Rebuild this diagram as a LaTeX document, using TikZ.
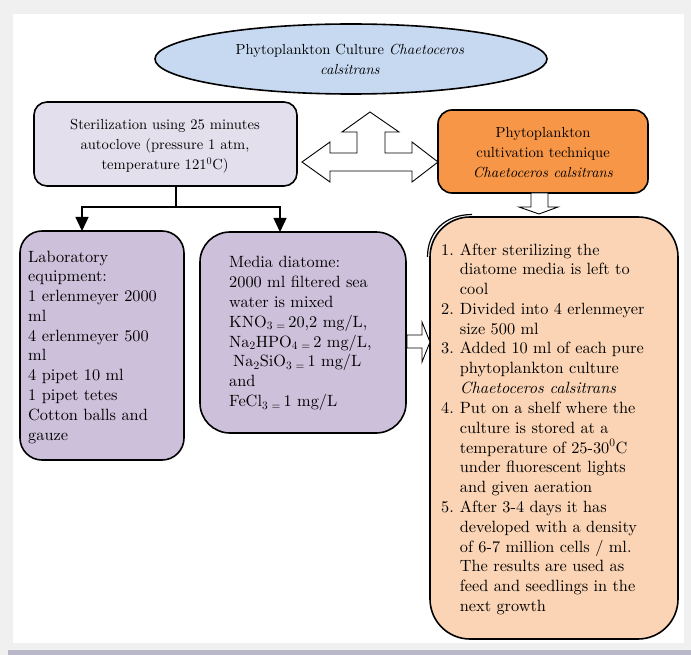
\documentclass[tikz,border=0pt]{standalone}
\usepackage{fontspec}
\setmainfont{lmroman10-regular.otf}[ItalicFont=lmroman10-italic.otf,BoldFont=lmroman10-bold.otf]
\usetikzlibrary{shapes.geometric,arrows.meta,calc}
\definecolor{pagegray}{HTML}{F0F0F0}
\definecolor{barcolor}{HTML}{B8B8C8}
\definecolor{ellblue}{HTML}{C6D9F1}
\definecolor{sterfill}{HTML}{E4DFEC}
\definecolor{orangefill}{HTML}{F79646}
\definecolor{purplefill}{HTML}{CCC0DA}
\definecolor{peachfill}{HTML}{FAD4B4}
\begin{document}
\begin{tikzpicture}[x=1pt,y=-1pt,
  box/.style={draw=black,line width=1.6pt,inner sep=0pt,outer sep=0pt},
  big/.style={inner sep=0pt,font=\fontsize{16.3}{19.8}\selectfont},
  small/.style={inner sep=0pt,font=\fontsize{14.6}{20}\selectfont},
  blockarrow/.style={draw=black,fill=white,line width=0.9pt,line join=miter},
  link/.style={line width=1.4pt,-{Triangle[width=13pt,length=14pt]}}
]
\useasboundingbox (0,0) rectangle (691,655);
\fill[pagegray] (0,0) rectangle (691,655);
\fill[white] (13,14) rectangle (684,643);
\fill[barcolor] (8,650) rectangle (691,655);

% top ellipse
\node[box,ellipse,fill=ellblue,minimum width=392pt,minimum height=70pt,line width=1.6pt] (ell) at (351,59) {};
\node[small,anchor=base] (elltxt) at (350,55) {\begin{tabular}[t]{@{}c@{}}Phytoplankton Culture \textit{Chaetoceros}\\ \textit{calsitrans}\end{tabular}};

% sterilization box
\node[box,fill=sterfill,rounded corners=13pt,minimum width=263pt,minimum height=84pt] (ster) at (165.5,144) {};
\node[small,anchor=base] (stertxt) at (165,130) {\begin{tabular}[t]{@{}c@{}}Sterilization using 25 minutes\\ autoclove (pressure 1 atm,\\ temperature 121\textsuperscript{0}C)\end{tabular}};

% orange box
\node[box,fill=orangefill,rounded corners=14pt,minimum width=210pt,minimum height=83pt] (tech) at (543,151.5) {};
\node[small,anchor=base] (techtxt) at (543,138) {\begin{tabular}[t]{@{}c@{}}Phytoplankton\\ cultivation technique\\ \textit{Chaetoceros calsitrans}\end{tabular}};

% three-way block arrow
\draw[blockarrow] (302,162) -- (330,142) -- (330,153) -- (357,153) -- (357,132) -- (342,132) -- (370,112) -- (399,132) -- (385,132) -- (385,153) -- (412,153) -- (412,142) -- (438,162) -- (412,182) -- (412,171) -- (330,171) -- (330,182) -- cycle;

% laboratory box
\node[box,fill=purplefill,rounded corners=22pt,minimum width=164pt,minimum height=229pt] (lab) at (102,345.5) {};
\node[big,anchor=base west] (labtxt) at (28,262) {\begin{tabular}[t]{@{}l@{}}Laboratory\\ equipment:\\ 1 erlenmeyer 2000\\ ml\\ 4 erlenmeyer 500\\ ml\\ 4 pipet 10 ml\\ 1 pipet tetes\\ Cotton balls and\\ gauze\end{tabular}};

% media box
\node[box,fill=purplefill,rounded corners=30pt,minimum width=206pt,minimum height=201pt] (media) at (303,332.5) {};
\node[big,anchor=base west] (mediatxt) at (229,268) {\begin{tabular}[t]{@{}l@{}}Media diatome:\\ 2000 ml filtered sea\\ water is mixed\\ KNO\textsubscript{3 =}\,20,2 mg/L,\\ Na\textsubscript{2}HPO\textsubscript{4 =}\,2 mg/L,\\ \hspace{4pt}Na\textsubscript{2}SiO\textsubscript{3 =}\,1 mg/L\\ and\\ FeCl\textsubscript{3 =}\,1 mg/L\end{tabular}};

% steps box
\draw[line width=1.2pt] (427.5,257) .. controls (427.5,232) and (445,214.5) .. (472,214.5);
\node[box,fill=peachfill,rounded corners=40pt,minimum width=248pt,minimum height=422pt] (steps) at (554,428) {};
\node[big,anchor=base west] (stepstxt) at (441,255) {\begin{tabular}[t]{@{}r@{\hspace{6pt}}l@{}}
1. & After sterilizing the\\
 & diatome media is left to\\
 & cool\\
2. & Divided into 4 erlenmeyer\\
 & size 500 ml\\
3. & Added 10 ml of each pure\\
 & phytoplankton culture\\
 & \textit{Chaetoceros calsitrans}\\
4. & Put on a shelf where the\\
 & culture is stored at a\\
 & temperature of 25-30\textsuperscript{0}C\\
 & under fluorescent lights\\
 & and given aeration\\
5. & After 3-4 days it has\\
 & developed with a density\\
 & of 6-7 million cells / ml.\\
 & The results are used as\\
 & feed and seedlings in the\\
 & next growth
\end{tabular}};

% connectors
\draw[line width=1.4pt] ([xshift=10.5pt]ster.south) -- ++(0,21) coordinate (split);
\draw[link] (split) -| ([xshift=-20pt]lab.north);
\draw[link] (split) -| ([xshift=-23pt]media.north);

% block arrow orange -> steps
\draw[blockarrow] (531,193) -- (548,193) -- (548,207) -- (558,207) -- (539,214) -- (519,207) -- (531,207) -- cycle;

% block arrow media -> steps
\draw[blockarrow] (407,335) -- (422,335) -- (422,322) -- (430,342) -- (422,362) -- (422,348) -- (407,348) -- cycle;
\end{tikzpicture}
\end{document}
